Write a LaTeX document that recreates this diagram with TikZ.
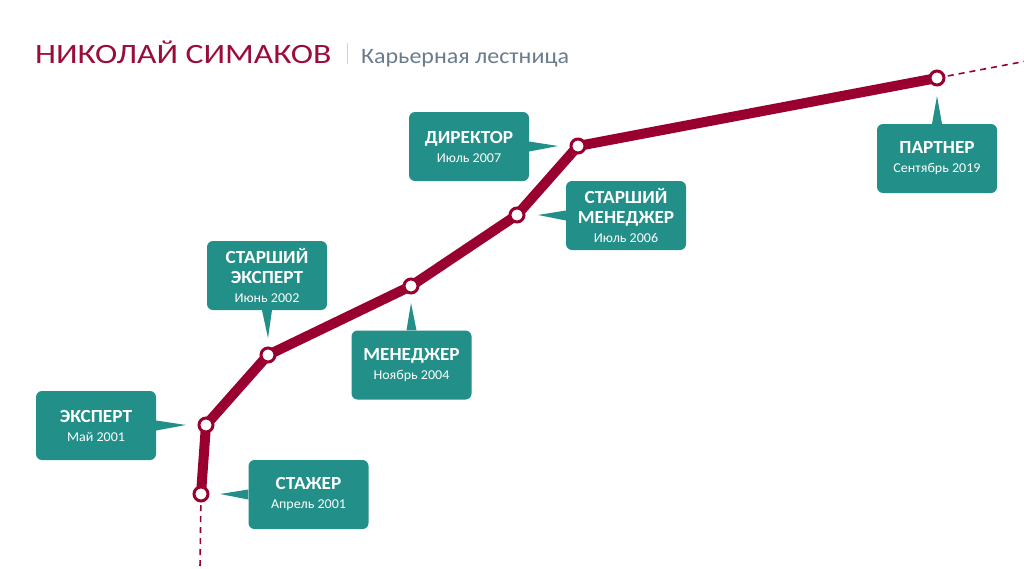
\documentclass[tikz,border=0pt]{standalone}
\usepackage{fontspec}
\setmainfont{Carlito}
\newfontfamily\titlefont[FakeStretch=1.2]{Carlito}
\newfontfamily\subfont[FakeStretch=1.09]{Carlito}
\newfontfamily\boxfont[FakeStretch=1.04]{Carlito}
\definecolor{tealbox}{HTML}{228F89}
\definecolor{crim}{HTML}{99002F}
\definecolor{subgrey}{HTML}{6A7C8C}
\definecolor{titlered}{HTML}{9A0D3A}
\begin{document}
\begin{tikzpicture}[x=1pt,y=-1pt,
  box/.style={fill=tealbox, rounded corners=6pt, minimum width=120pt, minimum height=69pt,
    align=center, text=white, inner sep=0pt, font=\boxfont\fontsize{18.5}{20}\selectfont\bfseries},
  ptr/.style={fill=tealbox},
  dot/.style={circle, fill=white, draw=crim, line width=3pt, minimum size=14pt, inner sep=0pt},
  track/.style={draw=crim, line width=10pt, line join=round},
  dashtrack/.style={draw=crim, line width=1.6pt, dash pattern=on 6pt off 5pt}
]
\useasboundingbox (0,0) rectangle (1024,568);

% title
\node[anchor=base west, inner sep=0pt, text=titlered, font=\titlefont\fontsize{28}{30}\selectfont] (title) at (35,63) {НИКОЛАЙ СИМАКОВ};
\node[anchor=base west, inner sep=0pt, text=subgrey, font=\subfont\fontsize{22}{24}\selectfont] (subtitle) at (361,63) {Карьерная лестница};
\draw[line width=1pt, gray!35] (347,43) -- (347,64);

% points
\coordinate (p1) at (201,494);
\coordinate (p2) at (206,425);
\coordinate (p3) at (268,355);
\coordinate (p4) at (411,286);
\coordinate (p5) at (517,215);
\coordinate (p6) at (578,146);
\coordinate (p7) at (937,78);
\coordinate (e1) at (200,568);
\coordinate (e7) at (1024,61.5);

% boxes
\node[box] (b1) at (308.5,494.5) {СТАЖЕР\\[-1pt]{\mdseries\fontsize{13.5}{15}\selectfont Апрель 2001}};
\node[box] (b2) at (96,425.5) {ЭКСПЕРТ\\[-1pt]{\mdseries\fontsize{13.5}{15}\selectfont Май 2001}};
\node[box] (b3) at (267,275.5) {СТАРШИЙ\\ЭКСПЕРТ\\[-1pt]{\mdseries\fontsize{13.5}{15}\selectfont Июнь 2002}};
\node[box] (b4) at (411.5,365) {МЕНЕДЖЕР\\[-1pt]{\mdseries\fontsize{13.5}{15}\selectfont Ноябрь 2004}};
\node[box] (b5) at (626,215.5) {СТАРШИЙ\\МЕНЕДЖЕР\\[-1pt]{\mdseries\fontsize{13.5}{15}\selectfont Июль 2006}};
\node[box] (b6) at (469,146.5) {ДИРЕКТОР\\[-1pt]{\mdseries\fontsize{13.5}{15}\selectfont Июль 2007}};
\node[box] (b7) at (937,158.5) {ПАРТНЕР\\[-1pt]{\mdseries\fontsize{13.5}{15}\selectfont Сентябрь 2019}};

% pointers
\coordinate (t1) at (220,494);
\coordinate (t2) at (186,425);
\coordinate (t3) at (268,338);
\coordinate (t4) at (411,303);
\coordinate (t5) at (538,215);
\coordinate (t6) at (558,146);
\coordinate (t7) at (937,96);
\fill[ptr] ([yshift=5pt]b1.west) -- (t1) -- ([yshift=-5pt]b1.west) -- cycle;
\fill[ptr] ([yshift=5pt]b2.east) -- (t2) -- ([yshift=-5pt]b2.east) -- cycle;
\fill[ptr] ([xshift=-5pt]b3.south) -- (t3) -- ([xshift=5pt]b3.south) -- cycle;
\fill[ptr] ([xshift=-5pt]b4.north) -- (t4) -- ([xshift=5pt]b4.north) -- cycle;
\fill[ptr] ([yshift=5pt]b5.west) -- (t5) -- ([yshift=-5pt]b5.west) -- cycle;
\fill[ptr] ([yshift=5pt]b6.east) -- (t6) -- ([yshift=-5pt]b6.east) -- cycle;
\fill[ptr] ([xshift=-5pt]b7.north) -- (t7) -- ([xshift=5pt]b7.north) -- cycle;

% track
\draw[dashtrack] (p1) -- (e1);
\draw[dashtrack] (p7) -- (e7);
\draw[track] (p1) -- (p2) -- (p3) -- (p4) -- (p5) -- (p6) -- (p7);
\foreach \p in {p1,p2,p3,p4,p5,p6,p7} \node[dot] (d\p) at (\p) {};
\end{tikzpicture}
\end{document}
